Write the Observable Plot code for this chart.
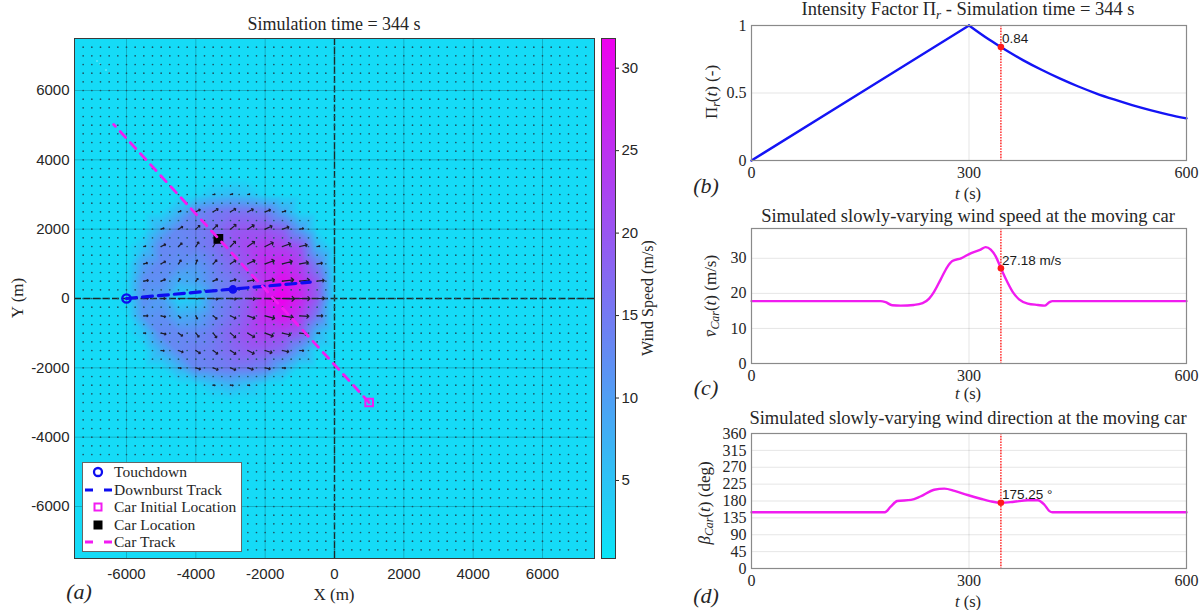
<!DOCTYPE html>
<html><head><meta charset="utf-8">
<script src="https://cdn.jsdelivr.net/npm/d3@7"></script>
<script src="https://cdn.jsdelivr.net/npm/@observablehq/plot@0.6"></script>
<style>
html,body{margin:0;padding:0;background:#fff;}
#root{position:relative;width:1202px;height:610px;overflow:hidden;background:#fff;}
#root > svg, #root > figure{position:absolute;margin:0;}
.t{position:absolute;white-space:nowrap;transform:translate(-50%,-50%);font-family:"Liberation Serif",serif;color:#262626;line-height:1;}
.rot{transform:translate(-50%,-50%) rotate(-90deg);}
.lg{position:absolute;left:82px;top:462px;width:160px;height:90px;background:#fff;border:1px solid #666;box-sizing:border-box;}
.lrow{position:absolute;left:0;height:16px;width:158px;}
.lrow svg{position:absolute;left:0;top:0;}
.lrow span{position:absolute;left:31px;top:0;font-family:"Liberation Serif",serif;font-size:15.5px;line-height:16px;color:#262626;white-space:nowrap;}
sub{font-size:70%;vertical-align:-0.25em;}
</style></head><body><div id="root"></div>
<script>
// ---------------- DATA ----------------
// Wind field readings (m/s) on a 500 m grid, rows from y=3500 (top) to y=-3500
const b = 1.8; // background wind speed read outside the downburst
const gridXs = [-6500,-6000,-5500,-5000,-4500,-4000,-3500,-3000,-2500,-2000,-1500,-1000,-500,0,500];
const gridYs = [3500,3000,2500,2000,1500,1000,500,0,-500,-1000,-1500,-2000,-2500,-3000,-3500];
const speedGrid = [
  [b,b,b,b,b,b,b,b,b,b,b,b,b,b,b],
  [b,b,b,b,b,2.5,5,6,5,2.5,b,b,b,b,b],
  [b,b,b,2.5,7,13,15,16,16,15,9,2.5,b,b,b],
  [b,b,2,8,13,14,16,19,20,20,18,10,2.5,b,b],
  [b,b,5,13,13,14,16,19,22,24,23,20,7,b,b],
  [b,2,10,13,12,11,14,17,21,26,27,23,14,2,b],
  [b,2.5,12,12,8,9,13,15,18,25,30,26,19,2.5,b],
  [b,2.5,12,10,3,4,12,15,19,28,32,27,19,2.5,b],
  [b,2,11,12,8,9,13,16,20,26,29,24,15,2,b],
  [b,b,5,13,13,13,15,18,21,23,22,19,7,b,b],
  [b,b,2,8,13,14,15,17,19,19,17,10,2.5,b,b],
  [b,b,b,2.5,7,13,14,15,15,14,8,2.5,b,b,b],
  [b,b,b,b,b,2.5,5,7,5,2.5,b,b,b,b,b],
  [b,b,b,b,b,b,b,b,b,b,b,b,b,b,b],
  [b,b,b,b,b,b,b,b,b,b,b,b,b,b,b]
];
// Wind direction readings (deg, counter-clockwise from +X), null = no visible arrow
const _ = null;
const dirGrid = [
  [_,_,_,_,_,_,_,_,_,_,_,_,_,_,_],
  [_,_,_,_,_,_,8,14,12,_,_,_,_,_,_],
  [_,_,_,_,19,27,31,30,26,21,15,_,_,_,_],
  [_,_,_,19,32,42,44,40,33,25,19,12,_,_,_],
  [_,_,12,26,45,57,57,46,36,26,19,13,8,_,_],
  [_,_,14,30,57,71,47,34,26,20,15,10,8,_,_],
  [_,_,11,24,60,51,25,16,11,9,7,7,6,_,_],
  [_,_,5,0,-24,-25,-10,-6,-4,-3,-2,-1,1,_,_],
  [_,_,0,-13,-44,-64,-39,-26,-20,-15,-9,-4,0,_,_],
  [_,_,0,-12,-34,-50,-52,-41,-31,-20,-13,-6,0,_,_],
  [_,_,_,-7,-21,-33,-37,-34,-27,-18,-12,-4,_,_,_],
  [_,_,_,_,-8,-17,-22,-22,-18,-13,-6,_,_,_,_],
  [_,_,_,_,_,_,-7,-6,-4,_,_,_,_,_,_],
  [_,_,_,_,_,_,_,_,_,_,_,_,_,_,_],
  [_,_,_,_,_,_,_,_,_,_,_,_,_,_,_]
];
const cornerXs = [-7500, 7500, -7500, 7500];
const cornerYs = [-7500, -7500, 7500, 7500];
const cornerSpeed = [b, b, b, b];
const latticeStart = -7250, latticeEnd = 7250, latticeStep = 250;

const downburstTrackX = [-6000, -700];
const downburstTrackY = [0, 470];
const touchdown = [-6000, 0];
const downburstNow = [-2930, 262];
const carTrackX = [1000, -6370];
const carTrackY = [-3000, 5020];
const carInitial = [1000, -3000];
const carNow = [-3350, 1720];

const mapTicks = [-6000,-4000,-2000,0,2000,4000,6000];
const cbTicks = [5,10,15,20,25,30];
const cbDomain = [0.27, 31.8];

// Intensity factor: rising and decaying branches
const piRiseT = [0, 150, 300];
const piRiseV = [0, 0.5, 1];
const piDecayT = [300, 325, 344, 350, 375, 400, 425, 450, 475, 500, 525, 550, 575, 600];
const piDecayV = [1, 0.905, 0.84, 0.82, 0.742, 0.672, 0.608, 0.55, 0.498, 0.452, 0.41, 0.373, 0.34, 0.312];
// Wind speed at car
const vT = [0,178,185,194,206,224,236,245,252,261,270,277,289,303,316,323,330,337,344,351,360,369,381,395,404,411,415,600];
const vV = [17.8,17.8,17.5,16.6,16.5,16.7,17.2,18.5,20.5,24,27.5,29.2,30,31.5,32.5,33.2,32.5,30.5,27.18,24,20.5,18.3,17.1,16.7,16.5,17.5,17.8,17.8];
// Wind direction at car
const bT = [0,184,192,201,220,233,252,266,280,298,316,330,344,362,381,395,404,411,415,600];
const bV = [150,150,165,180,183,192,210,213,207,196,186,179,175.25,178,182,182,170,153,150,150];
const simTime = 344;
const piNow = 0.84, vNow = 27.18, bNow = 175.25;

// ---------------- BUILD ----------------
const root = document.getElementById("root");
const coolRange = ["#0ae6f7", "#ee00ee"];
const ink = "#262626";

const field = [];
gridYs.forEach((y, i) => gridXs.forEach((x, j) => field.push({x, y, s: speedGrid[i][j], d: dirGrid[i][j]})));
cornerXs.forEach((x, k) => field.push({x, y: cornerYs[k], s: cornerSpeed[k], d: null}));
const arrows = field.filter(p => p.d !== null);
const lattice = [];
for (const x of d3.range(latticeStart, latticeEnd + 1, latticeStep))
  for (const y of d3.range(latticeStart, latticeEnd + 1, latticeStep)) lattice.push({x, y});

function place(el, left, top) { el.style.left = left + "px"; el.style.top = top + "px"; root.appendChild(el); }
const pts = (T, V) => T.map((t, i) => ({t, v: V[i]}));

const mapPlot = Plot.plot({
  width: 596, height: 610,
  marginLeft: 74, marginRight: 2, marginTop: 38, marginBottom: 52,
  style: {fontFamily: "Liberation Sans, Arial, sans-serif", fontSize: "15px", color: ink, background: "transparent"},
  x: {domain: [-7500, 7500], ticks: mapTicks, tickFormat: d => String(d), tickSize: 0, tickPadding: 10, label: null},
  y: {domain: [-7500, 7500], ticks: mapTicks, tickFormat: d => String(d), tickSize: 0, tickPadding: 5, label: null},
  color: {type: "linear", domain: cbDomain, range: coolRange, interpolate: "rgb"},
  length: {domain: [0, 32], range: [0, 12]},
  marks: [
    Plot.raster(field, {x: "x", y: "y", fill: "s", interpolate: "barycentric", x1: -7500, x2: 7500, y1: -7500, y2: 7500}),
    Plot.gridX(mapTicks.filter(v => v !== 0), {stroke: "#000", strokeOpacity: 0.2}),
    Plot.gridY(mapTicks.filter(v => v !== 0), {stroke: "#000", strokeOpacity: 0.2}),
    Plot.ruleX([0], {stroke: "#1c2a2a", strokeWidth: 1.4, strokeDasharray: "7,2.5"}),
    Plot.ruleY([0], {stroke: "#1c2a2a", strokeWidth: 1.4, strokeDasharray: "7,2.5"}),
    Plot.dot(lattice, {x: "x", y: "y", r: 0.85, fill: "#1d5566", stroke: null}),
    Plot.vector(arrows, {x: "x", y: "y", length: "s", rotate: d => 90 - d.d, anchor: "start", stroke: "#1c1c2c", strokeWidth: 1.2}),
    Plot.line(downburstTrackX.map((x, i) => ({x, y: downburstTrackY[i]})), {x: "x", y: "y", stroke: "#0d0df0", strokeWidth: 3.2, strokeDasharray: "10,6"}),
    Plot.dot([touchdown], {x: d => d[0], y: d => d[1], r: 4.2, stroke: "#0d0df0", strokeWidth: 2.3, fill: "none"}),
    Plot.dot([downburstNow], {x: d => d[0], y: d => d[1], r: 4.3, fill: "#0d0df0", stroke: null}),
    Plot.dot([carNow], {x: d => d[0], y: d => d[1], r: 5.5, symbol: "square", fill: "#000", stroke: null}),
    Plot.line(carTrackX.map((x, i) => ({x, y: carTrackY[i]})), {x: "x", y: "y", stroke: "#f21cf2", strokeWidth: 2.8, strokeDasharray: "8,7"}),
    Plot.dot([carInitial], {x: d => d[0], y: d => d[1], r: 4.3, symbol: "square", stroke: "#f21cf2", strokeWidth: 2, fill: "none"}),
    Plot.frame({stroke: "#3a3a3a", strokeWidth: 1})
  ]
});
place(mapPlot, 0, 0);

const cbPlot = Plot.plot({
  width: 80, height: 610,
  marginLeft: 6, marginRight: 60, marginTop: 38, marginBottom: 52,
  style: {fontFamily: "Liberation Sans, Arial, sans-serif", fontSize: "15px", color: ink, background: "transparent"},
  x: {domain: [0, 1], axis: null},
  y: {domain: cbDomain, ticks: cbTicks, axis: "right", tickSize: 3, tickPadding: 3, label: null},
  color: {type: "linear", domain: cbDomain, range: coolRange, interpolate: "rgb"},
  marks: [
    Plot.raster({fill: (x, y) => y, x1: 0, x2: 1, y1: cbDomain[0], y2: cbDomain[1]}),
    Plot.frame({stroke: "#3a3a3a", strokeWidth: 1})
  ]
});
place(cbPlot, 595, 0);

function sidePlot({top, series, yDomain, yTicks, gridYs, color, nowV, nowLabel}) {
  const p = Plot.plot({
    width: 522, height: 205,
    marginLeft: 71, marginRight: 16, marginTop: 28, marginBottom: 42,
    style: {fontFamily: "Liberation Serif, serif", fontSize: "16px", color: ink, background: "transparent"},
    x: {domain: [0, 600], ticks: [0, 300, 600], tickFormat: d => String(d), tickSize: 0, tickPadding: 6, label: null},
    y: {domain: yDomain, ticks: yTicks, tickFormat: d => String(d), tickSize: 0, tickPadding: 5, label: null},
    marks: [
      Plot.gridY(gridYs, {stroke: "#000", strokeOpacity: 0.1}),
      Plot.gridX([300], {stroke: "#000", strokeOpacity: 0.1}),
      ...series.map(s => Plot.line(s.data, {x: "t", y: "v", stroke: color, strokeWidth: 2.4, curve: s.curve})),
      Plot.ruleX([simTime], {stroke: "#ff1a1a", strokeWidth: 1.4, strokeDasharray: "1.6,1.2"}),
      Plot.dot([{t: simTime, v: nowV}], {x: "t", y: "v", r: 3.3, fill: "#ff1a1a", stroke: null}),
      Plot.text([{t: simTime, v: nowV}], {x: "t", y: "v", text: () => nowLabel, textAnchor: "start", dx: 1, dy: -8,
        fontFamily: "Liberation Sans, Arial, sans-serif", fontSize: 13.5, fill: "#1a1a1a"}),
      Plot.frame({stroke: "#8a8a8a", strokeWidth: 1.2})
    ]
  });
  place(p, 680, top);
}
sidePlot({top: -3, series: [{data: pts(piRiseT, piRiseV), curve: "linear"}, {data: pts(piDecayT, piDecayV), curve: "monotone-x"}],
  yDomain: [0, 1], yTicks: [0, 0.5, 1], gridYs: [0.5], color: "#1414f5", nowV: piNow, nowLabel: "0.84"});
sidePlot({top: 200, series: [{data: pts(vT, vV), curve: "monotone-x"}],
  yDomain: [0, 38.5], yTicks: [0, 10, 20, 30], gridYs: [10, 20, 30], color: "#f01cf0", nowV: vNow, nowLabel: "27.18 m/s"});
sidePlot({top: 405, series: [{data: pts(bT, bV), curve: "monotone-x"}],
  yDomain: [0, 360], yTicks: [0,45,90,135,180,225,270,315,360], gridYs: [45,90,135,180,225,270,315], color: "#f01cf0", nowV: bNow, nowLabel: "175.25 °"});

// ---------------- TEXT ----------------
function txt(html, x, y, size, extra = {}) {
  const d = document.createElement("div");
  d.className = "t" + (extra.rot ? " rot" : "");
  d.innerHTML = html;
  d.style.fontSize = size + "px";
  place(d, x, y);
  return d;
}
txt("Simulation time = 344 s", 334, 24, 18);
txt("X (m)", 334, 594, 17);
txt("Y (m)", 17, 298, 17, {rot: true});
txt("Wind Speed (m/s)", 648, 298, 16, {rot: true});
txt("<i>(a)</i>", 79, 592, 22);
txt("Intensity Factor &Pi;<sub><i>r</i></sub> - Simulation time = 344 s", 968, 11, 18.5);
txt("Simulated slowly-varying wind speed at the moving car", 968, 216, 18.5);
txt("Simulated slowly-varying wind direction at the moving car", 968, 418, 18.5);
txt("<i>t</i> (s)", 968, 194, 16.5);
txt("<i>t</i> (s)", 968, 394, 16.5);
txt("<i>t</i> (s)", 968, 602, 16.5);
txt("&Pi;<sub><i>r</i></sub>(<i>t</i>) (-)", 713, 92, 17, {rot: true});
txt("<i>v&#772;</i><sub><i>Car</i></sub>(<i>t</i>) (m/s)", 712, 296, 17, {rot: true});
txt("<i>&beta;</i><sub><i>Car</i></sub>(<i>t</i>) (deg)", 706, 503, 17, {rot: true});
txt("<i>(b)</i>", 706, 186, 22);
txt("<i>(c)</i>", 706, 388, 22);
txt("<i>(d)</i>", 706, 596, 22);

// ---------------- LEGEND ----------------
const lg = document.createElement("div");
lg.className = "lg";
root.appendChild(lg);
const legendItems = [
  {label: "Touchdown", svg: '<circle cx="15" cy="8" r="4" fill="none" stroke="#0d0df0" stroke-width="2.3"/>'},
  {label: "Downburst Track", svg: '<line x1="2" y1="8" x2="30" y2="8" stroke="#0d0df0" stroke-width="3" stroke-dasharray="8,11"/>'},
  {label: "Car Initial Location", svg: '<rect x="11.5" y="4.5" width="7" height="7" fill="none" stroke="#f21cf2" stroke-width="2"/>'},
  {label: "Car Location", svg: '<rect x="10.5" y="3.5" width="9" height="9" fill="#000"/>'},
  {label: "Car Track", svg: '<line x1="2" y1="8" x2="30" y2="8" stroke="#f21cf2" stroke-width="2.8" stroke-dasharray="8,11"/>'}
];
legendItems.forEach((it, k) => {
  const r = document.createElement("div");
  r.className = "lrow";
  r.style.top = (1 + k * 17.5) + "px";
  r.innerHTML = `<svg width="31" height="16">${it.svg}</svg><span>${it.label}</span>`;
  lg.appendChild(r);
});
</script></body></html>
